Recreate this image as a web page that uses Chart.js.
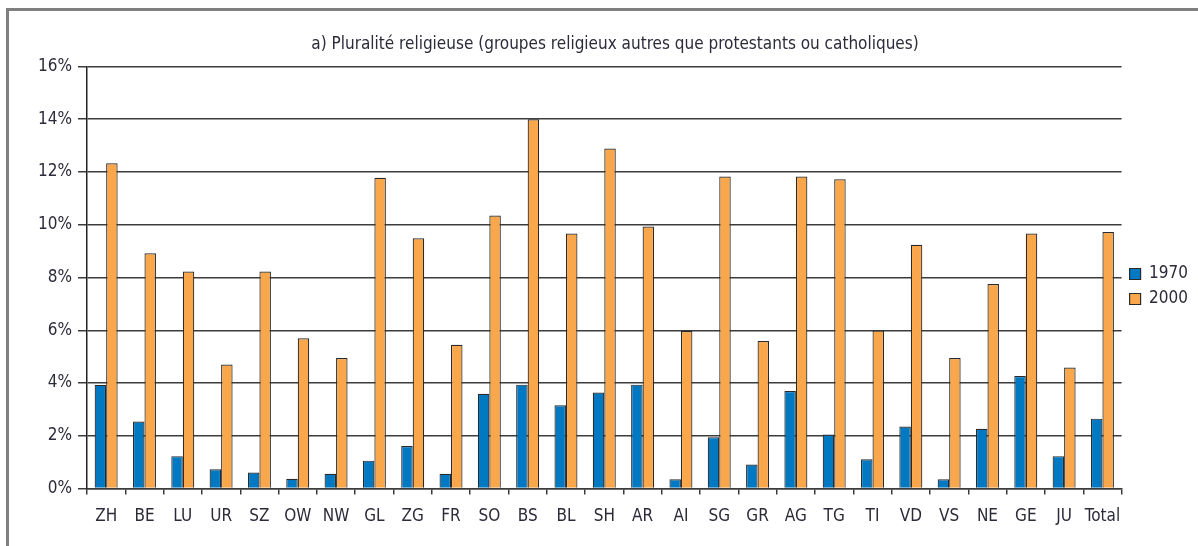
<!DOCTYPE html>
<html>
<head>
<meta charset="utf-8">
<script src="https://cdn.jsdelivr.net/npm/chart.js@4.4.1/dist/chart.umd.min.js"></script>
<style>
  html, body { margin: 0; padding: 0; background: #fff; }
  #wrap { position: absolute; left: 0; top: 0; width: 1198px; height: 546px; }
  #frame { position: absolute; left: 6px; top: 8px; right: -10px; bottom: -10px;
           border-left: 3px solid #7f7f7f; border-top: 3px solid #7f7f7f; pointer-events: none; }
  canvas { position: absolute; left: 0; top: 0; }
</style>
</head>
<body>
<div id="wrap">
  <canvas id="c" width="1198" height="546"></canvas>
  <div id="frame"></div>
</div>
<script>
const titleText = "a) Pluralité religieuse (groupes religieux autres que protestants ou catholiques)";
const categories = ["ZH","BE","LU","UR","SZ","OW","NW","GL","ZG","FR","SO","BS","BL","SH","AR","AI","SG","GR","AG","TG","TI","VD","VS","NE","GE","JU","Total"];
const series1970 = [3.93,2.54,1.23,0.73,0.61,0.37,0.56,1.06,1.61,0.56,3.59,3.94,3.16,3.64,3.94,0.35,1.95,0.91,3.70,2.05,1.11,2.35,0.35,2.27,4.27,1.23,2.65];
const series2000 = [12.33,8.92,8.23,4.70,8.23,5.70,4.95,11.78,9.49,5.45,10.35,14.0,9.67,12.89,9.93,5.97,11.83,5.59,11.83,11.72,5.99,9.24,4.95,7.75,9.67,4.59,9.72];
const yTicks = [0,2,4,6,8,10,12,14,16];

const FONT = "'DejaVu Sans Condensed', 'Liberation Sans', sans-serif";
const TEXT = '#2b2b3a';
const GRID = '#3c3c3c';

new Chart(document.getElementById('c'), {
  type: 'bar',
  data: {
    labels: categories,
    datasets: [
      { label: '1970', data: series1970, backgroundColor: '#0079C2', borderColor: '#2a2a2a', borderWidth: 1.2 },
      { label: '2000', data: series2000, backgroundColor: '#F9A74A', borderColor: '#2a2a2a', borderWidth: 1.2 }
    ]
  },
  options: {
    responsive: false,
    animation: false,
    devicePixelRatio: 1,
    layout: { padding: { top: 34, left: 32, right: 0, bottom: 7 } },
    datasets: { bar: { categoryPercentage: 0.6, barPercentage: 1.0 } },
    plugins: {
      title: {
        display: true, text: titleText, color: TEXT,
        font: { family: FONT, size: 17, weight: 'normal' }, padding: { top: 0, bottom: 12 }
      },
      legend: {
        position: 'right',
        labels: { color: TEXT, font: { family: FONT, size: 17 }, boxWidth: 11, boxHeight: 11, padding: 8 }
      },
      tooltip: { enabled: false }
    },
    scales: {
      x: {
        grid: { display: true, offset: true, drawOnChartArea: false, drawTicks: true, tickLength: 6, color: GRID, lineWidth: 1.5 },
        border: { display: true, color: GRID, width: 1.5 },
        ticks: { color: TEXT, font: { family: FONT, size: 17 }, padding: 12, maxRotation: 0, autoSkip: false }
      },
      y: {
        min: 0, max: 16,
        afterBuildTicks: (axis) => { axis.ticks = yTicks.map(v => ({ value: v })); },
        grid: { color: GRID, lineWidth: 1.5, tickLength: 9 },
        border: { display: true, color: '#222', width: 1.5 },
        ticks: { color: TEXT, font: { family: FONT, size: 17 }, padding: 6, callback: (v) => v + '%' }
      }
    }
  }
});
</script>
</body>
</html>
